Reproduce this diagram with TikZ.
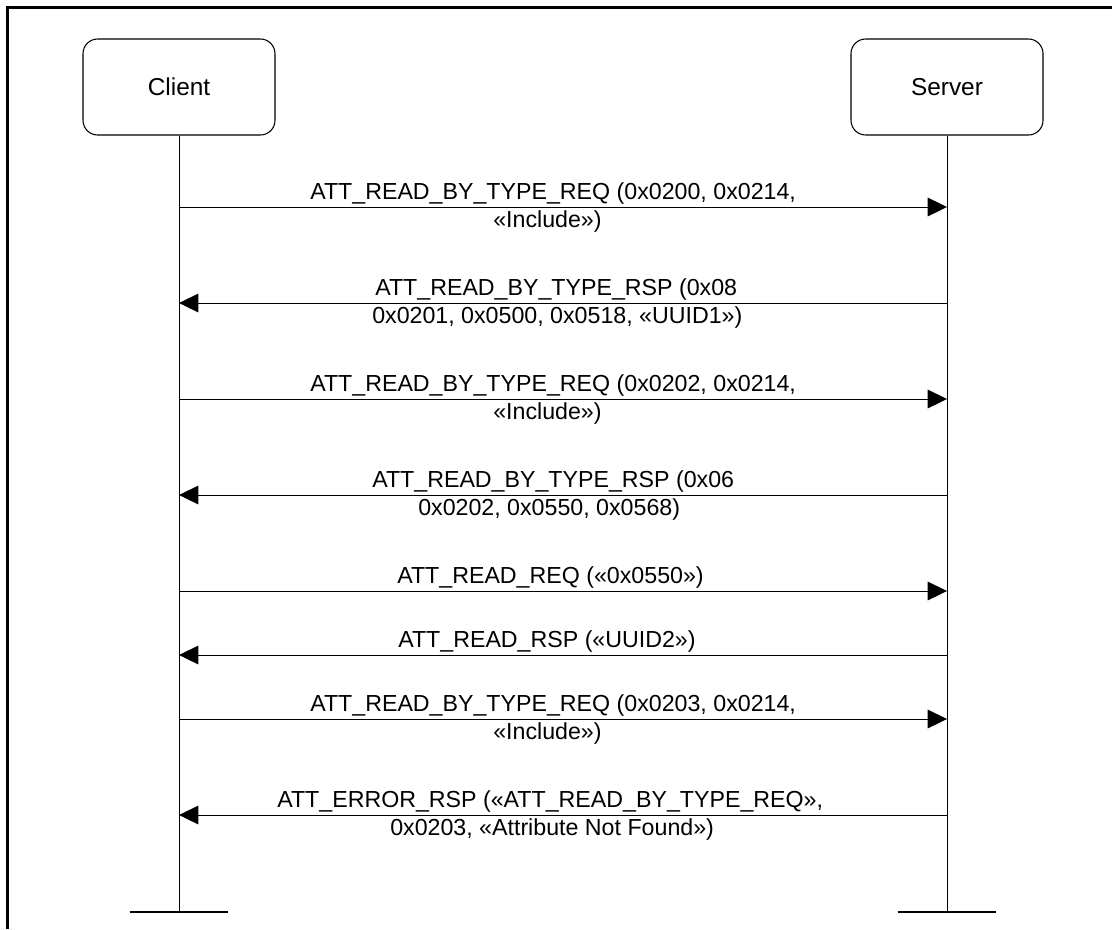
\documentclass[tikz,border=0pt]{standalone}
\usepackage{fontspec}
\setmainfont{Liberation Sans}
\usetikzlibrary{arrows.meta,positioning}

\tikzset{
  actor/.style={draw, rounded corners=11pt, line width=0.8pt,
                minimum width=144pt, minimum height=72pt,
                font=\fontsize{18.3}{22}\selectfont},
  life/.style={line width=0.75pt},
  stopbar/.style={line width=2.2pt},
  msg/.style={line width=0.75pt, -{Triangle[length=14.5pt,width=14pt]}},
  lbl/.style={anchor=base west, inner sep=0pt}
}

\begin{document}
\begin{tikzpicture}[x=0.75pt,y=-0.75pt,font=\fontsize{17.4}{21}\selectfont]
  \useasboundingbox (0,0) rectangle (1112,929);
  % frame
  \draw[line width=2pt] (1112,7.5) -- (7.5,7.5) -- (7.5,929);

  % actors and lifelines
  \node[actor] (client) at (179,87) {Client};
  \node[actor] (server) at (947,87) {Server};
  \coordinate (cend) at (179,912);
  \coordinate (send) at (947,912);
  \draw[life] (client) -- (cend);
  \draw[life] (server) -- (send);
  \draw[stopbar] ([xshift=-37pt]cend) -- ([xshift=37pt]cend);
  \draw[stopbar] ([xshift=-37pt]send) -- ([xshift=37pt]send);

  % messages
  \draw[msg] (client |- 0,207) -- (server |- 0,207);
  \node[lbl] (m1a) at (310,199) {ATT\_READ\_BY\_TYPE\_REQ (0x0200, 0x0214,};
  \node[lbl] (m1b) at (493,227) {«Include»)};

  \draw[msg] (server |- 0,303) -- (client |- 0,303);
  \node[lbl] (m2a) at (375,295) {ATT\_READ\_BY\_TYPE\_RSP (0x08};
  \node[lbl] (m2b) at (372,323) {0x0201, 0x0500, 0x0518, «UUID1»)};

  \draw[msg] (client |- 0,399) -- (server |- 0,399);
  \node[lbl] (m3a) at (310,391) {ATT\_READ\_BY\_TYPE\_REQ (0x0202, 0x0214,};
  \node[lbl] (m3b) at (493,419) {«Include»)};

  \draw[msg] (server |- 0,495) -- (client |- 0,495);
  \node[lbl] (m4a) at (372,487) {ATT\_READ\_BY\_TYPE\_RSP (0x06};
  \node[lbl] (m4b) at (418,515) {0x0202, 0x0550, 0x0568)};

  \draw[msg] (client |- 0,591) -- (server |- 0,591);
  \node[lbl] (m5) at (397,583) {ATT\_READ\_REQ («0x0550»)};

  \draw[msg] (server |- 0,655) -- (client |- 0,655);
  \node[lbl] (m6) at (398,647) {ATT\_READ\_RSP («UUID2»)};

  \draw[msg] (client |- 0,719) -- (server |- 0,719);
  \node[lbl] (m7a) at (310,711) {ATT\_READ\_BY\_TYPE\_REQ (0x0203, 0x0214,};
  \node[lbl] (m7b) at (493,739) {«Include»)};

  \draw[msg] (server |- 0,815) -- (client |- 0,815);
  \node[lbl] (m8a) at (277,807) {ATT\_ERROR\_RSP («ATT\_READ\_BY\_TYPE\_REQ»,};
  \node[lbl] (m8b) at (390,835) {0x0203, «Attribute Not Found»)};
\end{tikzpicture}
\end{document}
